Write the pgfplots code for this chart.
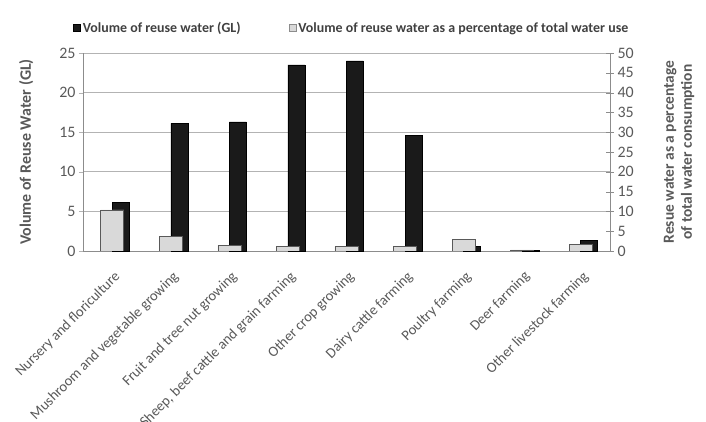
\documentclass[border=0pt]{standalone}
\usepackage{pgfplots}
\pgfplotsset{compat=1.18}
\usepackage{fontspec}
\setmainfont{Carlito}

\definecolor{txtgray}{HTML}{595959}
\definecolor{leggray}{HTML}{404040}
\definecolor{axgray}{HTML}{8C8C8C}
\definecolor{gridgray}{HTML}{B3B3B3}
\definecolor{barlight}{HTML}{D9D9D9}
\definecolor{barblack}{HTML}{1A1A1A}

\pgfplotsset{
  commonaxis/.style={
    scale only axis,
    width=527bp, height=198bp,
    at={(0,0)}, anchor=south west,
    xmin=-0.5, xmax=8.5,
    ymin=0,
    /pgf/number format/assume math mode=true,
    tick label style={font=\fontsize{16}{19}\selectfont, color=txtgray},
    axis line style={axgray},
  },
}

\begin{document}
\begin{tikzpicture}
\path[use as bounding box] (-83bp,-171bp) rectangle (623bp,251bp);

% left axis: volume (GL), black bars
\begin{axis}[commonaxis,
    ymax=25, ytick={0,5,...,25},
    axis y line*=left, axis x line*=bottom,
    ymajorgrids, grid style={gridgray, line width=0.8pt},
    ytick style={gridgray}, major tick length=4bp, tick align=outside,
    xtick={0,...,8},
    xticklabels={Nursery and floriculture, Mushroom and vegetable growing,
      Fruit and tree nut growing, {Sheep, beef cattle and grain farming},
      Other crop growing, Dairy cattle farming, Poultry farming,
      Deer farming, Other livestock farming},
    x tick style={draw=none},
    minor xtick={-0.5,0.5,...,8.5},
    minor x tick style={axgray}, minor tick length=5bp,
    xticklabel style={font=\fontsize{14.6}{17}\selectfont, color=txtgray,
      yshift=-17bp, xshift=8bp, rotate=45, anchor=east},
    ylabel={Volume of Reuse Water (GL)},
    ylabel style={at={(axis description cs:-0.108,0.5)}, anchor=center,
      font=\fontsize{16}{19}\selectfont\bfseries, color=txtgray},
    ybar, bar width=17bp, bar shift=8.5bp,
    legend style={at={(axis description cs:-0.019,1.125)}, anchor=west,
      draw=none, fill=none, inner sep=0pt, legend columns=2,
      font=\fontsize{14}{17}\selectfont\bfseries, text=leggray,
      /tikz/every even column/.append style={column sep=46bp}},
    legend image code/.code={\draw[#1] (0bp,-3.5bp) rectangle (7bp,3.5bp);},
  ]
  \addplot[fill=barblack, draw=black, line width=0.6pt] coordinates {
    (0,6.1) (1,16.1) (2,16.3) (3,23.5) (4,24.0)
    (5,14.6) (6,0.6) (7,0.05) (8,1.35)};
  \addlegendentry{Volume of reuse water (GL)}
  \addlegendimage{fill=barlight, draw=axgray, line width=0.6pt}
  \addlegendentry{Volume of reuse water as a percentage of total water use}
\end{axis}

% right axis: percentage, light bars in front
\begin{axis}[commonaxis,
    ymax=50, ytick={0,5,...,50},
    axis y line*=right, axis x line=none,
    ytick style={axgray}, major tick length=8bp, tick align=center,
    ylabel={Resue water as a percentage\\of total water consumption},
    ylabel style={at={(axis description cs:1.131,0.5)}, anchor=center,
      align=center,
      font=\fontsize{15.5}{18}\selectfont\bfseries, color=txtgray},
    ybar, bar width=23bp, bar shift=0bp,
  ]
  \addplot[fill=barlight, draw=txtgray, line width=0.6pt] coordinates {
    (0,10.4) (1,3.6) (2,1.4) (3,1.1) (4,1.1)
    (5,1.1) (6,3.0) (7,0.3) (8,1.6)};
\end{axis}
\end{tikzpicture}
\end{document}
